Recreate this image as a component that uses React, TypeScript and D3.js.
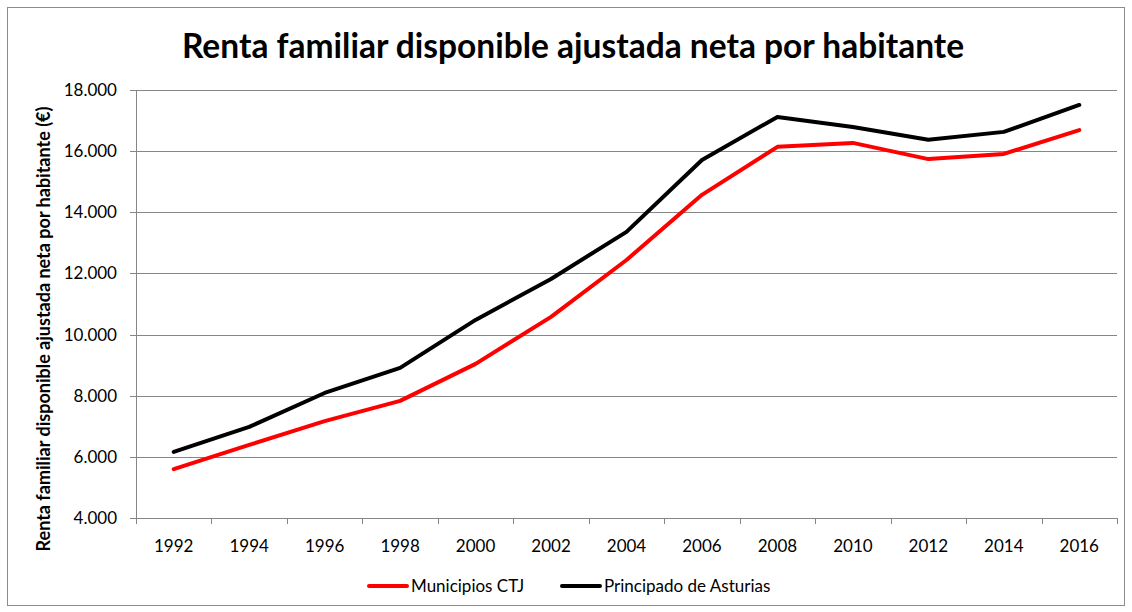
import React from 'react';
import * as d3 from 'd3';

const years = ['1992', '1994', '1996', '1998', '2000', '2002', '2004', '2006', '2008', '2010', '2012', '2014', '2016'];
const municipiosCTJ = [5600, 6390, 7170, 7830, 9040, 10580, 12440, 14570, 16140, 16270, 15740, 15910, 16690];
const principado = [6160, 6980, 8090, 8910, 10480, 11820, 13360, 15710, 17120, 16790, 16370, 16630, 17510];
const yTicks = [4000, 6000, 8000, 10000, 12000, 14000, 16000, 18000];

const series = [
  { name: 'Municipios CTJ', values: municipiosCTJ, color: '#ff0000' },
  { name: 'Principado de Asturias', values: principado, color: '#000000' },
];

const W = 1132;
const H = 612;
const margin = { top: 90, right: 15, bottom: 94, left: 136 };
const font = 'Lato, "Open Sans", sans-serif';

const fmt = (v: number) => d3.format(',')(v).replace(/,/g, '.');

export default function App() {
  const x = d3.scaleBand<string>().domain(years).range([margin.left, W - margin.right]);
  const y = d3.scaleLinear().domain([4000, 18000]).range([H - margin.bottom, margin.top]);
  const line = d3.line<number>()
    .x((_, i) => (x(years[i]) || 0) + x.bandwidth() / 2)
    .y(d => y(d));
  const bottom = H - margin.bottom;
  const gridColor = '#868686';

  return (
    <svg width={W} height={H} style={{ position: 'absolute', left: 0, top: 0 }} fontFamily={font}>
      <rect x={0} y={0} width={W} height={H} fill="#fff" />
      <rect x={7.5} y={7.5} width={W - 15} height={H - 14} fill="none" stroke="#8c8c8c" strokeWidth={1} />
      <text x={573} y={58} textAnchor="middle" fontSize={33.5} fontWeight="bold" fill="#000">
        Renta familiar disponible ajustada neta por habitante
      </text>
      {yTicks.map(t => (
        <g key={t}>
          <line x1={margin.left - 6} x2={W - margin.right} y1={Math.round(y(t)) + 0.5} y2={Math.round(y(t)) + 0.5} stroke={gridColor} />
          <text x={margin.left - 19} y={y(t)} dy="0.35em" textAnchor="end" fontSize={17} fill="#000">{fmt(t)}</text>
        </g>
      ))}
      <line x1={margin.left + 0.5} x2={margin.left + 0.5} y1={margin.top} y2={bottom + 6} stroke={gridColor} />
      {years.map(yr => (
        <g key={yr}>
          <line x1={Math.round((x(yr) || 0) + x.bandwidth()) + 0.5} x2={Math.round((x(yr) || 0) + x.bandwidth()) + 0.5} y1={bottom} y2={bottom + 6} stroke={gridColor} />
          <text x={(x(yr) || 0) + x.bandwidth() / 2} y={bottom + 34} textAnchor="middle" fontSize={17} fill="#000">{yr}</text>
        </g>
      ))}
      <text transform={`translate(50,${(margin.top + bottom) / 2 + 25}) rotate(-90)`} textAnchor="middle" fontSize={18} fontWeight="bold" fill="#000">
        Renta familiar disponible ajustada neta por habitante (€)
      </text>
      {series.map(s => (
        <path key={s.name} d={line(s.values) || ''} fill="none" stroke={s.color} strokeWidth={4} strokeLinejoin="round" strokeLinecap="round" />
      ))}
      <g>
        <line x1={369} x2={407} y1={586} y2={586} stroke={series[0].color} strokeWidth={4} strokeLinecap="round" />
        <text x={411} y={586} dy="0.35em" fontSize={17} fill="#000">{series[0].name}</text>
        <line x1={562} x2={600} y1={586} y2={586} stroke={series[1].color} strokeWidth={4} strokeLinecap="round" />
        <text x={604} y={586} dy="0.35em" fontSize={17} fill="#000">{series[1].name}</text>
      </g>
    </svg>
  );
}
